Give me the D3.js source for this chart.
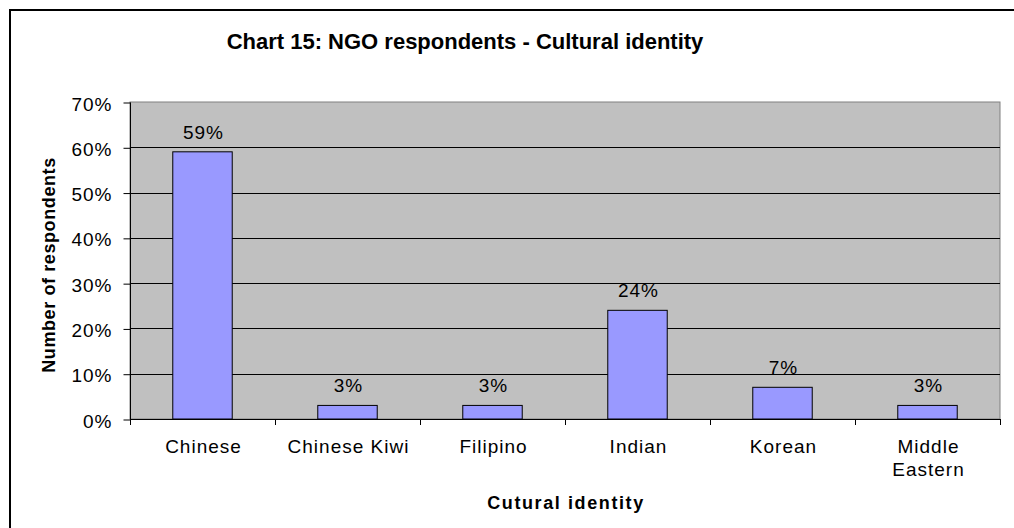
<!DOCTYPE html>
<html>
<head>
<meta charset="utf-8">
<script src="https://cdn.jsdelivr.net/npm/d3@7"></script>
<style>
  html, body { margin: 0; padding: 0; background: #fff; }
  svg { display: block; font-family: "Liberation Sans", Arial, sans-serif; }
</style>
</head>
<body>
<svg id="chart" width="1014" height="528"></svg>
<script>
// Survey results: share of NGO respondents by cultural identity
const categories = ["Chinese", "Chinese Kiwi", "Filipino", "Indian", "Korean", "Middle Eastern"];
const shares = [59, 3, 3, 24, 7, 3];
const yTicks = [0, 10, 20, 30, 40, 50, 60, 70];

const svg = d3.select("#chart");
const W = 1014, H = 528;
const plot = { left: 130, right: 1000, top: 102, bottom: 419 };

// outer chart frame (runs off the right and bottom edges)
svg.append("rect")
  .attr("x", 10).attr("y", 10)
  .attr("width", W + 20).attr("height", H + 20)
  .attr("fill", "#fff").attr("stroke", "#000").attr("stroke-width", 2);

const x = d3.scaleBand().domain(categories).range([plot.left, plot.right]).padding(0);
const y = d3.scaleLinear().domain([0, 70]).range([plot.bottom, plot.top]);

// plot area
svg.append("rect")
  .attr("x", plot.left).attr("y", plot.top)
  .attr("width", plot.right - plot.left).attr("height", plot.bottom - plot.top)
  .attr("fill", "#c0c0c0").attr("stroke", "#808080").attr("stroke-width", 1);

// horizontal gridlines
svg.append("g").selectAll("line")
  .data(yTicks.filter(d => d > 0 && d < 70))
  .join("line")
  .attr("x1", plot.left).attr("x2", plot.right)
  .attr("y1", d => Math.round(y(d)) + 0.5).attr("y2", d => Math.round(y(d)) + 0.5)
  .attr("stroke", "#000").attr("stroke-width", 1);

// bars
const bw = x.bandwidth();
svg.append("g").selectAll("rect")
  .data(categories)
  .join("rect")
  .attr("x", d => x(d) + bw * 0.295)
  .attr("width", bw * 0.41)
  .attr("y", (d, i) => y(shares[i]))
  .attr("height", (d, i) => y(0) - y(shares[i]))
  .attr("fill", "#9999ff").attr("stroke", "#000").attr("stroke-width", 1);

// value labels
svg.append("g").selectAll("text")
  .data(categories)
  .join("text")
  .attr("x", d => x(d) + bw / 2 + 1)
  .attr("y", (d, i) => y(shares[i]) - 13)
  .attr("text-anchor", "middle")
  .style("font-size", "19px").style("letter-spacing", "1px")
  .attr("fill", "#000")
  .text((d, i) => shares[i] + "%");

// y axis
const yAxis = d3.axisLeft(y).tickValues(yTicks).tickFormat(d => d + "%").tickSize(7).tickPadding(11);
const gy = svg.append("g").attr("transform", `translate(${plot.left + 0.5},0.5)`).call(yAxis);
gy.select(".domain").attr("stroke", "#000").attr("d", `M0,${plot.top}V${plot.bottom}`);
gy.selectAll(".tick line").attr("stroke", "#000");
gy.selectAll(".tick text")
  .attr("fill", "#000")
  .style("font-size", "19px").style("letter-spacing", "1px")
  .style("font-family", "'Liberation Sans', Arial, sans-serif")
  .attr("dy", "0.4em");

// x axis: ticks at category boundaries
const gx = svg.append("g");
gx.append("line")
  .attr("x1", plot.left).attr("x2", plot.right)
  .attr("y1", plot.bottom + 0.5).attr("y2", plot.bottom + 0.5)
  .attr("stroke", "#000");
const bounds = categories.map(c => x(c)).concat([x.range()[1]]);
gx.selectAll("line.tk")
  .data(bounds)
  .join("line").attr("class", "tk")
  .attr("x1", d => Math.round(d) + 0.5).attr("x2", d => Math.round(d) + 0.5)
  .attr("y1", plot.bottom).attr("y2", plot.bottom + 6)
  .attr("stroke", "#000");

// category labels, wrapped to the band width
const lab = svg.append("g").selectAll("text")
  .data(categories)
  .join("text")
  .attr("text-anchor", "middle")
  .style("font-size", "19px").style("letter-spacing", "1px")
  .attr("fill", "#000");
lab.each(function (d) {
  const t = d3.select(this);
  const cx = x(d) + bw / 2 + 1;
  const words = d.split(" ");
  // measure full label; wrap if wider than allowed
  t.text(d);
  const lines = this.getComputedTextLength() > 130 ? words : [d];
  t.text(null);
  lines.forEach((ln, i) => {
    t.append("tspan").attr("x", cx).attr("y", 453 + i * 23).text(ln);
  });
});

// chart title
svg.append("text")
  .attr("x", 465).attr("y", 49)
  .attr("text-anchor", "middle")
  .style("font-size", "22px").style("font-weight", "bold")
  .attr("fill", "#000")
  .text("Chart 15: NGO respondents - Cultural identity");

// axis titles
svg.append("text")
  .attr("x", 566).attr("y", 509)
  .attr("text-anchor", "middle")
  .style("font-size", "18px").style("font-weight", "bold").style("letter-spacing", "1.6px")
  .attr("fill", "#000")
  .text("Cutural identity");

svg.append("text")
  .attr("transform", "translate(55,265) rotate(-90)")
  .attr("text-anchor", "middle")
  .style("font-size", "18px").style("font-weight", "bold").style("letter-spacing", "0.6px")
  .attr("fill", "#000")
  .text("Number of respondents");
</script>
</body>
</html>
